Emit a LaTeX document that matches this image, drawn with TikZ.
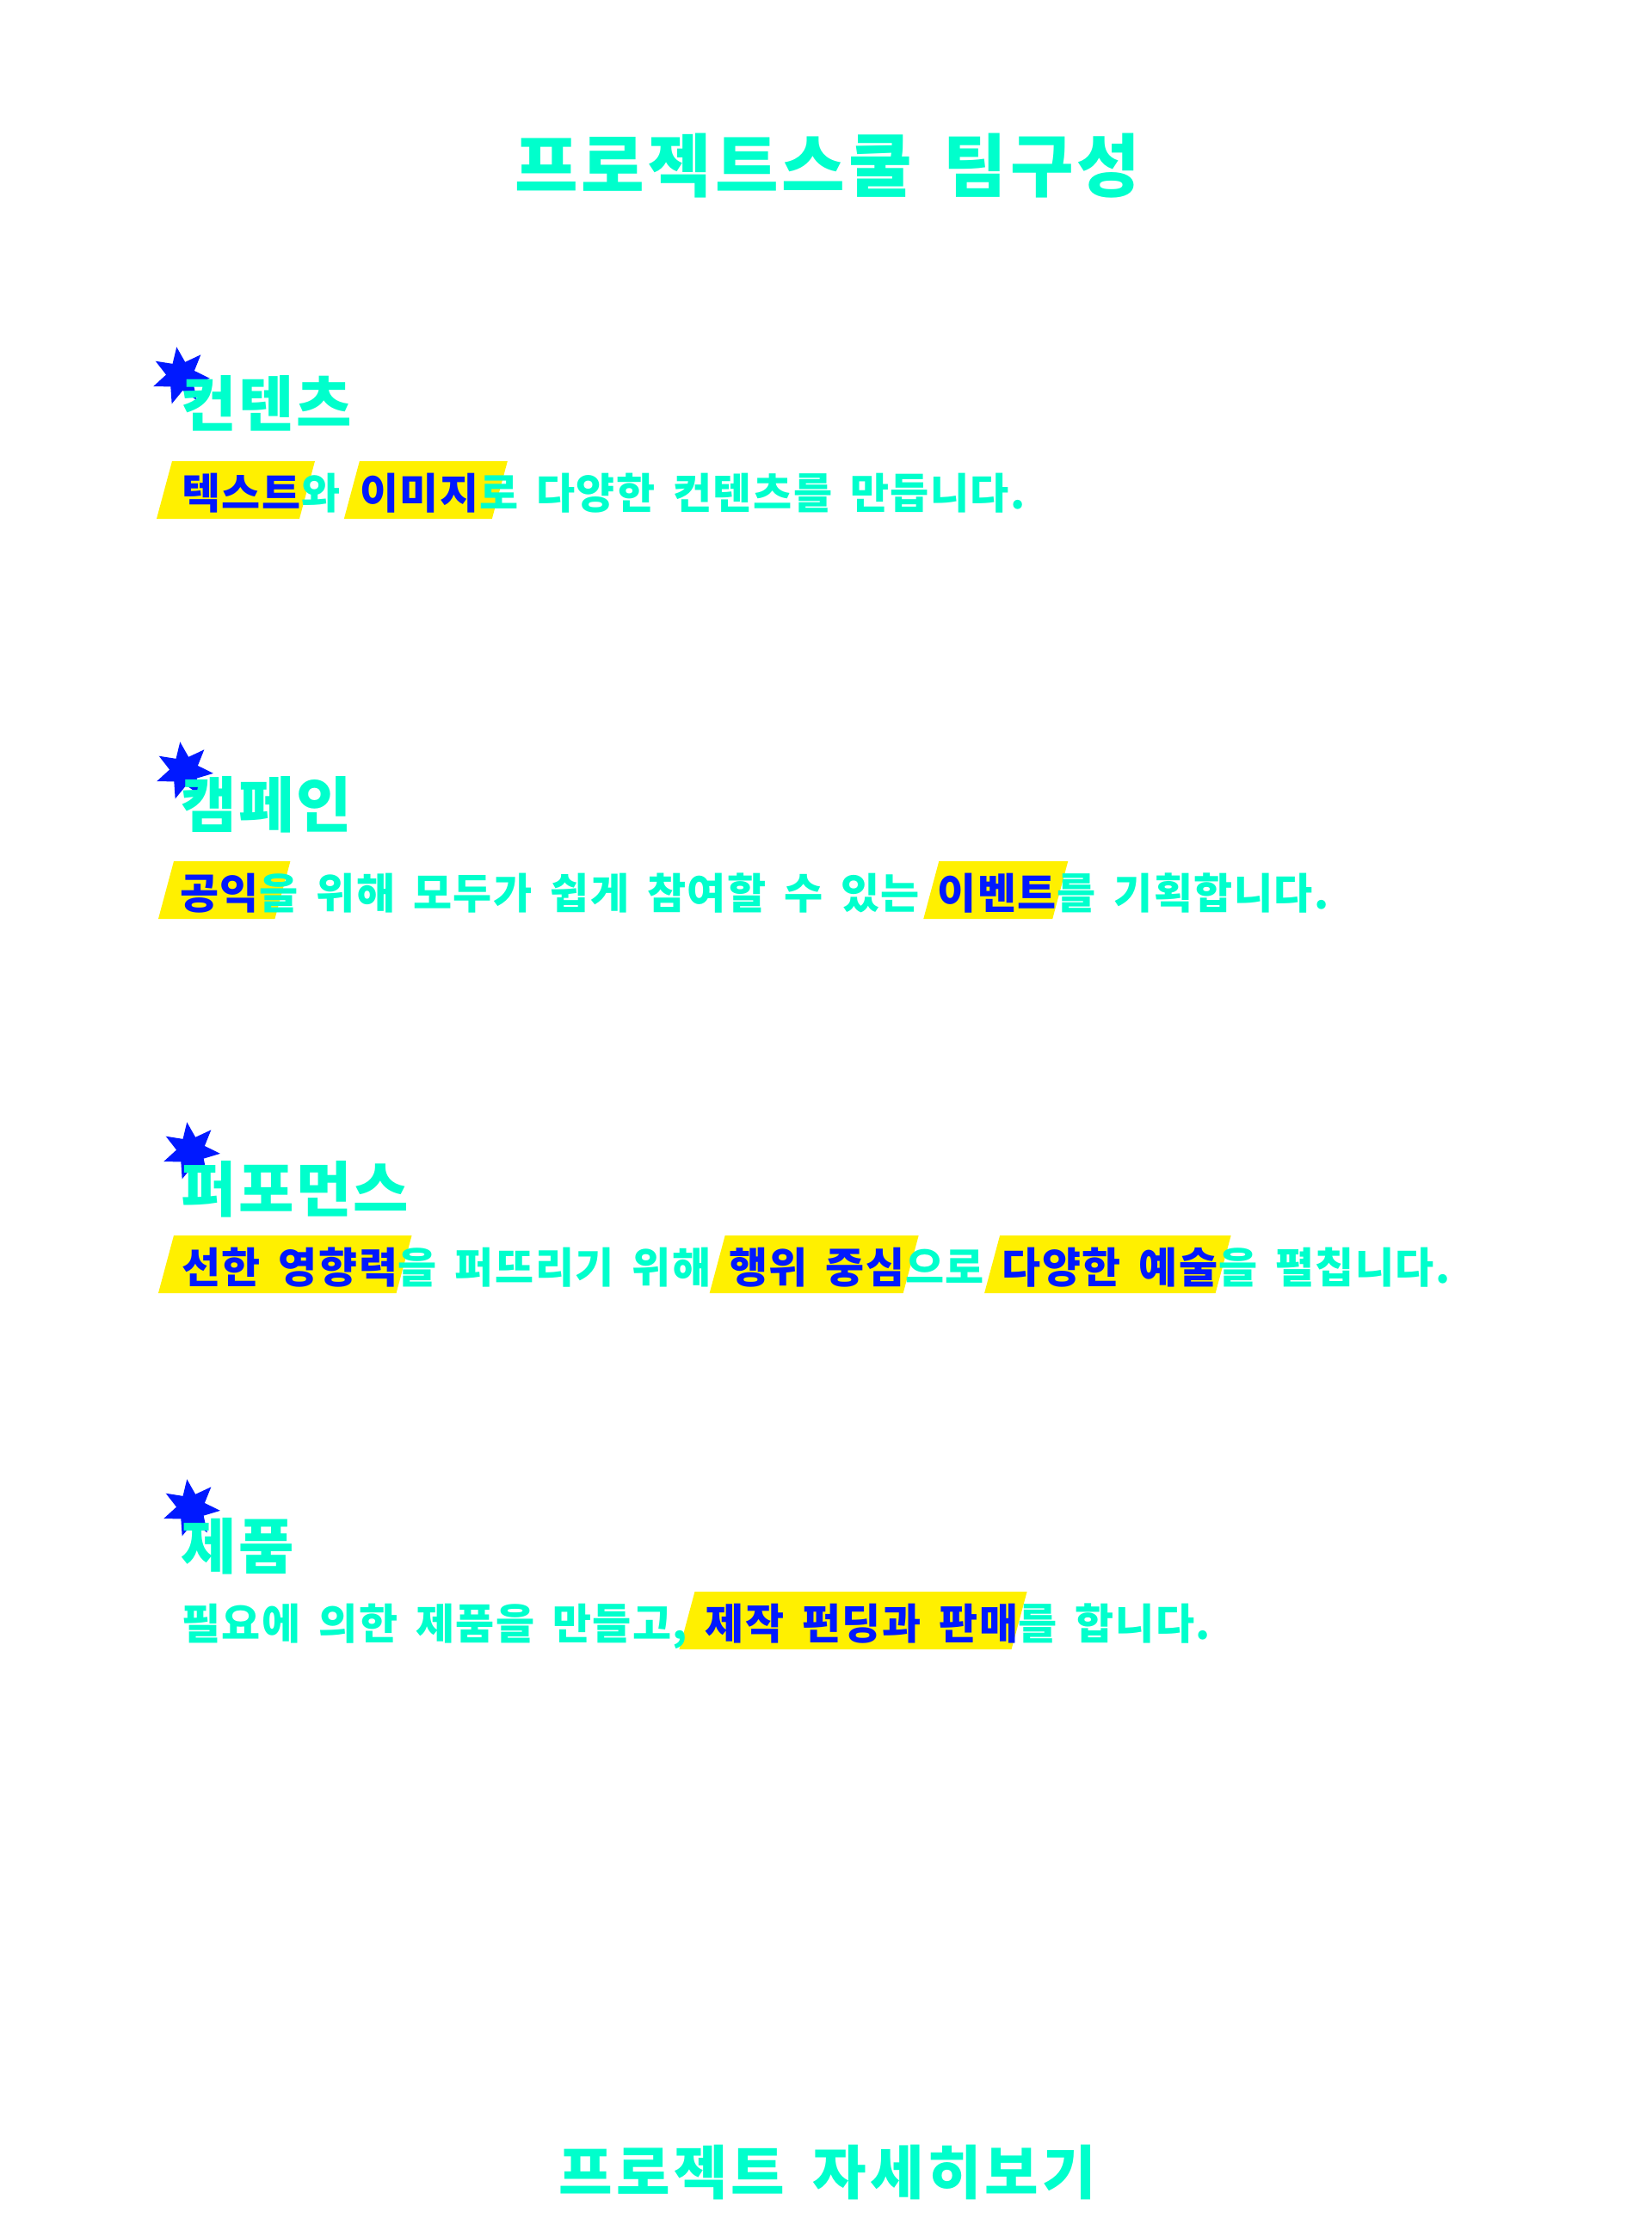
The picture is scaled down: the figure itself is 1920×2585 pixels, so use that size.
\documentclass[tikz,border=0pt]{standalone}
\usepackage{fontspec}
\setmainfont{Noto Sans CJK KR}[WordSpace=1.65]
\usetikzlibrary{shapes.geometric,calc}

\definecolor{mint}{HTML}{00FFCC}
\definecolor{royal}{HTML}{0019FF}
\definecolor{lemon}{HTML}{FFF000}

\pgfdeclarelayer{bg}
\pgfdeclarelayer{hl}
\pgfsetlayers{bg,hl,main}

\tikzset{
  headline/.style={font=\bfseries\fontsize{40}{40}\selectfont\addfontfeature{LetterSpace=5}, text=mint, inner sep=0pt},
  sectitle/.style={font=\bfseries\fontsize{35}{35}\selectfont\addfontfeature{LetterSpace=3.5}, text=mint, inner sep=0pt, anchor=base west},
  sentence/.style={font=\bfseries\fontsize{24.5}{24.5}\selectfont\addfontfeature{LetterSpace=3}, text=mint, inner sep=0pt, anchor=base west},
  hltext/.style={sentence, text=royal},
  burst/.style={star, star points=7, star point ratio=2, fill=royal, minimum size=34pt, inner sep=0pt, rotate=8}
}

% yellow slanted box behind a highlighted node: node, left pad, right pad
\newcommand{\hlbox}[3]{\fill[lemon] ($(#1.base west)+(-#2,12)$) -- ($(#1.base west)+(-#2+18,-55)$) -- ($(#1.base east)+(#3+18,-55)$) -- ($(#1.base east)+(#3,12)$) -- cycle;}

\begin{document}
\begin{tikzpicture}[x=0.5pt,y=-0.5pt]
\useasboundingbox (0,0) rectangle (1920,2585);
\begin{pgfonlayer}{bg}
\fill[white] (0,0) rectangle (1920,2585);
\end{pgfonlayer}

\node[headline] (title) at (962,193) {프로젝트스쿨 팀구성};

% contents
\node[burst] (star1) at (210,437) {};
\node[sectitle] (head1) at (210,495) {컨텐츠};
\node[hltext] (t1a) at (211,591) {텍스트};
\node[sentence] (t1b) at (t1a.base east) {와};
\node[hltext] (t1c) at ([xshift=11pt]t1b.base east) {이미지};
\node[sentence] (t1d) at (t1c.base east) {로 다양한 컨텐츠를 만듭니다.};

% campaign
\node[burst] (star2) at (214,896) {};
\node[sectitle] (head2) at (210,961) {캠페인};
\node[hltext] (t2a) at (209,1056) {공익};
\node[sentence] (t2b) at (t2a.base east) {을 위해 모두가 쉽게 참여할 수 있는};
\node[hltext] (t2c) at ([xshift=10pt]t2b.base east) {이벤트};
\node[sentence] (t2d) at (t2c.base east) {를 기획합니다.};

% performance
\node[burst] (star3) at (222,1338) {};
\node[sectitle] (head3) at (210,1408) {퍼포먼스};
\node[hltext] (t3a) at (211,1491) {선한 영향력};
\node[sentence] (t3b) at (t3a.base east) {을 퍼뜨리기 위해};
\node[hltext] (t3c) at ([xshift=10pt]t3b.base east) {행위 중심};
\node[sentence] (t3d) at (t3c.base east) {으로};
\node[hltext] (t3e) at ([xshift=10pt]t3d.base east) {다양한 예술};
\node[sentence] (t3f) at (t3e.base east) {을 펼칩니다.};

% product
\node[burst] (star4) at (222,1753) {};
\node[sectitle] (head4) at (210,1823) {제품};
\node[sentence] (t4a) at (211,1905) {필요에 의한 제품을 만들고,};
\node[hltext] (t4b) at ([xshift=10pt]t4a.base east) {제작 펀딩과 판매};
\node[sentence] (t4c) at (t4b.base east) {를 합니다.};

\begin{pgfonlayer}{hl}
\hlbox{t1a}{29}{-2}
\hlbox{t1c}{18}{15}
\hlbox{t2a}{25}{18}
\hlbox{t2c}{16}{-5}
\hlbox{t3a}{27}{-2}
\hlbox{t3c}{22}{-2}
\hlbox{t3e}{20}{-3}
\hlbox{t4b}{30}{-8}
\end{pgfonlayer}

\node[headline, font=\bfseries\fontsize{34}{34}\selectfont\addfontfeature{LetterSpace=6}] (more) at (962,2525) {프로젝트 자세히보기};
\end{tikzpicture}
\end{document}
